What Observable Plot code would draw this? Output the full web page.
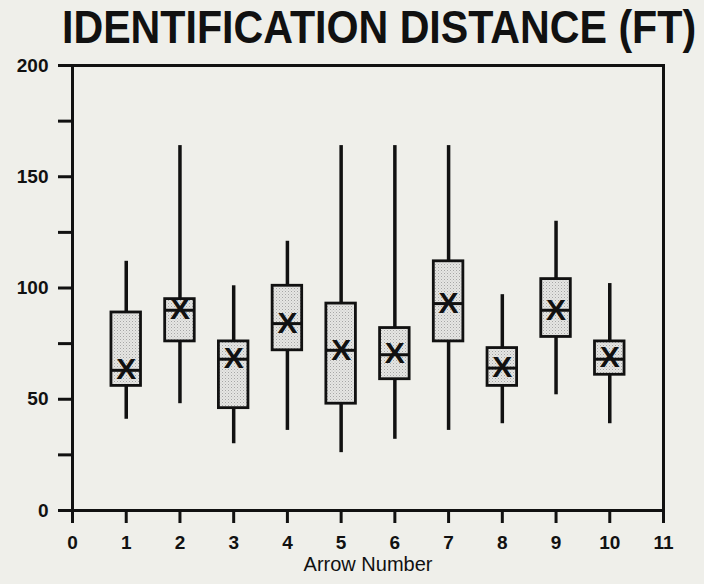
<!DOCTYPE html>
<html>
<head>
<meta charset="utf-8">
<script src="https://cdn.jsdelivr.net/npm/d3@7"></script>
<script src="https://cdn.jsdelivr.net/npm/@observablehq/plot@0.6"></script>
<style>
  html, body { margin: 0; padding: 0; background: #efefea; }
  #chart svg { display: block; }
  #chart g[aria-label="y-axis tick label"] text,
  #chart g[aria-label="x-axis tick label"] text {
    font-size: 19px !important;
    font-weight: bold !important;
  }
</style>
</head>
<body>
<div id="chart"></div>
<script>
const title = "IDENTIFICATION DISTANCE (FT)";
const arrows      = [1, 2, 3, 4, 5, 6, 7, 8, 9, 10];
const whiskerLow  = [41, 48, 30, 36, 26, 32, 36, 39, 52, 39];
const q1          = [56, 76, 46, 72, 48, 59, 76, 56, 78, 61];
const median      = [63, 90, 68, 84, 72, 70, 93, 64, 90, 68];
const q3          = [89, 95, 76, 101, 93, 82, 112, 73, 104, 76];
const whiskerHigh = [112, 164, 101, 121, 164, 164, 164, 97, 130, 102];
const mean        = [63.5, 90.5, 68.5, 84, 72, 70.5, 93, 64.5, 90, 69];

const xTicks = [0, 1, 2, 3, 4, 5, 6, 7, 8, 9, 10, 11];
const yTicks = [0, 50, 100, 150, 200];
const yMinorTicks = [25, 75, 125, 175];
const xLabel = "Arrow Number";

const half = 0.275;
const data = arrows.map((a, i) => ({
  arrow: a, low: whiskerLow[i], q1: q1[i], median: median[i],
  q3: q3[i], high: whiskerHigh[i], mean: mean[i]
}));

const ink = "#111";
const font = "Liberation Sans, Arial, Helvetica, sans-serif";

const plot = Plot.plot({
  width: 704,
  height: 584,
  marginTop: 65,
  marginBottom: 74,
  marginLeft: 72,
  marginRight: 41,
  style: {
    background: "transparent",
    fontFamily: font,
    fontSize: "19px",
    color: ink
  },
  x: { domain: [0, 11] },
  y: { domain: [0, 200] },
  marks: [
    Plot.ruleX(data, { x: "arrow", y1: "low", y2: "q1", stroke: ink, strokeWidth: 3.5 }),
    Plot.ruleX(data, { x: "arrow", y1: "q3", y2: "high", stroke: ink, strokeWidth: 3.5 }),
    Plot.rectY(data, {
      x1: d => d.arrow - half, x2: d => d.arrow + half,
      y1: "q1", y2: "q3",
      fill: "url(#stipple)", stroke: ink, strokeWidth: 2.8
    }),
    Plot.ruleY(data, {
      y: "median", x1: d => d.arrow - half, x2: d => d.arrow + half,
      stroke: ink, strokeWidth: 3
    }),
    Plot.text(data, {
      x: "arrow", y: "mean", text: () => "X",
      fontSize: 30, fontWeight: "bold", fill: ink
    }),
    Plot.frame({ stroke: ink, strokeWidth: 3 }),
    Plot.axisY({
      ticks: yTicks, tickSize: 14, tickPadding: 10, strokeWidth: 3,
      label: null, tickFormat: d => String(d),
      fontSize: 19, fontWeight: "bold"
    }),
    Plot.axisY({
      ticks: yMinorTicks, tickSize: 14, strokeWidth: 3,
      label: null, tickFormat: () => ""
    }),
    Plot.axisX({
      ticks: xTicks, tickSize: 13, tickPadding: 12, strokeWidth: 3,
      label: null, tickFormat: d => String(d),
      fontSize: 19, fontWeight: "bold"
    }),
    Plot.text([xLabel], {
      text: d => d, frameAnchor: "bottom", dy: 60,
      fontSize: 20, fontWeight: "normal", fill: ink
    })
  ]
});

const svg = d3.select(plot);
svg.insert("defs", ":first-child").html(
  '<pattern id="stipple" width="3" height="3" patternUnits="userSpaceOnUse">' +
  '<rect width="3" height="3" fill="#e6e6e3"></rect>' +
  '<rect x="0" y="0" width="1" height="1" fill="#a6a6a6"></rect>' +
  '<rect x="1.5" y="1.5" width="1" height="1" fill="#c0c0c0"></rect>' +
  '</pattern>'
);

// Chart title (condensed bold, like the original typeset heading)
const sx = 0.895;
svg.append("text")
  .attr("transform", `scale(${sx},1)`)
  .attr("x", 62 / sx)
  .attr("y", 43)
  .attr("text-anchor", "start")
  .attr("font-family", font)
  .attr("font-weight", "bold")
  .attr("font-size", 46)
  .attr("fill", ink)
  .text(title);

document.getElementById("chart").append(plot);
</script>
</body>
</html>
